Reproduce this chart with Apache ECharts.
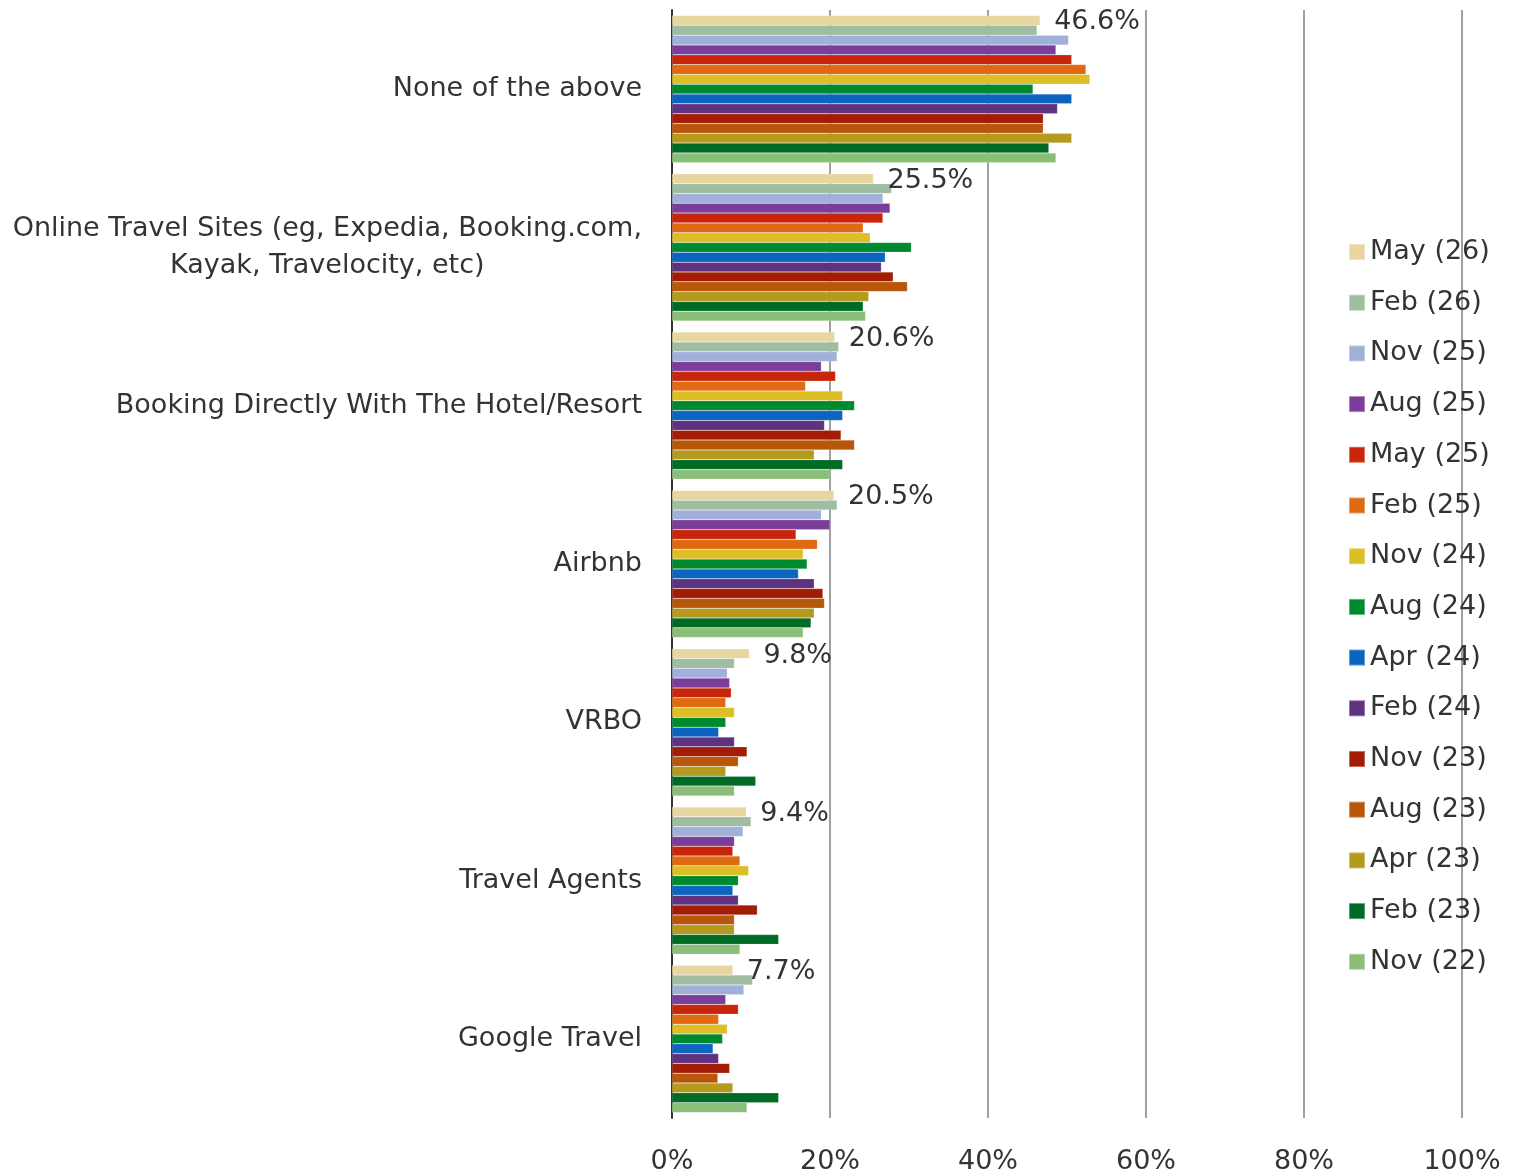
<!DOCTYPE html>
<html>
<head>
<meta charset="utf-8">
<script src="https://cdn.jsdelivr.net/npm/echarts@6/dist/echarts.min.js"></script>
<style>html,body{margin:0;padding:0;background:#fff;}#chart{width:1520px;height:1176px;}</style>
</head>
<body>
<div id="chart"></div>
<script>
const categories = [
  "None of the above",
  "Online Travel Sites (eg, Expedia, Booking.com,\nKayak, Travelocity, etc)",
  "Booking Directly With The Hotel/Resort",
  "Airbnb",
  "VRBO",
  "Travel Agents",
  "Google Travel"
];
const seriesNames = ["May (26)","Feb (26)","Nov (25)","Aug (25)","May (25)","Feb (25)","Nov (24)","Aug (24)","Apr (24)","Feb (24)","Nov (23)","Aug (23)","Apr (23)","Feb (23)","Nov (22)"];
const seriesColors = ["#E8D6A0","#9FBDA0","#A0B0D8","#7A3E9A","#C8260A","#E06A12","#DDBE25","#008A30","#0A64C0","#5F3280","#A31C05","#B8560A","#B59A1E","#006B25","#8BBE78"];
// values per series, in category order
const may26 = [46.6, 25.5, 20.6, 20.5, 9.8, 9.4, 7.7];
const feb26 = [46.2, 27.8, 21.1, 20.9, 7.9, 10.0, 10.2];
const nov25 = [50.2, 26.7, 20.9, 18.9, 7.0, 9.0, 9.1];
const aug25 = [48.6, 27.6, 18.9, 20.0, 7.3, 7.9, 6.8];
const may25 = [50.6, 26.7, 20.7, 15.7, 7.5, 7.7, 8.4];
const feb25 = [52.4, 24.2, 16.9, 18.4, 6.8, 8.6, 5.9];
const nov24 = [52.9, 25.1, 21.6, 16.6, 7.9, 9.7, 7.0];
const aug24 = [45.7, 30.3, 23.1, 17.1, 6.8, 8.4, 6.4];
const apr24 = [50.6, 27.0, 21.6, 16.0, 5.9, 7.7, 5.2];
const feb24 = [48.8, 26.5, 19.3, 18.0, 7.9, 8.4, 5.9];
const nov23 = [47.0, 28.0, 21.4, 19.1, 9.5, 10.8, 7.3];
const aug23 = [47.0, 29.8, 23.1, 19.3, 8.4, 7.9, 5.8];
const apr23 = [50.6, 24.9, 18.0, 18.0, 6.8, 7.9, 7.7];
const feb23 = [47.7, 24.2, 21.6, 17.6, 10.6, 13.5, 13.5];
const nov22 = [48.6, 24.5, 20.0, 16.6, 7.9, 8.6, 9.5];
const seriesValues = [may26, feb26, nov25, aug25, may25, feb25, nov24, aug24, apr24, feb24, nov23, aug23, apr23, feb23, nov22];
const xTicks = [0, 20, 40, 60, 80, 100];

const FONT = "DejaVu Sans";
const chart = echarts.init(document.getElementById('chart'), null, {renderer: 'canvas'});
const series = seriesNames.map((name, i) => ({
  name: name,
  type: 'bar',
  data: seriesValues[i],
  barGap: '0%',
  barCategoryGap: '7%',
  itemStyle: {color: seriesColors[i], borderColor: 'rgba(255,255,255,0.35)', borderWidth: 0.5},
  label: i === 0 ? {
    show: true, position: 'right', distance: 14, offset: [0, 2],
    formatter: p => p.value.toFixed(1) + '%',
    fontFamily: FONT, fontSize: 27, color: '#333'
  } : {show: false},
  animation: false
}));
chart.setOption({
  animation: false,
  backgroundColor: '#fff',
  textStyle: {fontFamily: FONT},
  grid: {left: 672, right: 58, top: 10, bottom: 58, containLabel: false},
  legend: {
    orient: 'vertical', left: 1343, top: 232,
    itemWidth: 16, itemHeight: 16, itemGap: 20.7,
    icon: 'rect',
    textStyle: {fontFamily: FONT, fontSize: 27, color: '#333', lineHeight: 30},
    data: seriesNames
  },
  xAxis: {
    type: 'value', min: xTicks[0], max: xTicks[xTicks.length - 1], interval: 20,
    axisLine: {show: false}, axisTick: {show: false},
    splitLine: {show: true, lineStyle: {color: '#A0A0A0', width: 2}},
    axisLabel: {formatter: '{value}%', fontFamily: FONT, fontSize: 27, color: '#333', margin: 30}
  },
  yAxis: {
    type: 'category', inverse: true, data: categories,
    axisLine: {show: true, lineStyle: {color: '#333', width: 2}},
    axisTick: {show: false},
    axisLabel: {
      margin: 30, color: '#333', fontFamily: FONT, fontSize: 27,
      formatter: v => v.split('\n').map(s => '{c|' + s + '}').join('\n'),
      rich: {c: {align: 'center', fontFamily: FONT, fontSize: 27, color: '#333', lineHeight: 37}}
    }
  },
  series: series
});
</script>
</body>
</html>
